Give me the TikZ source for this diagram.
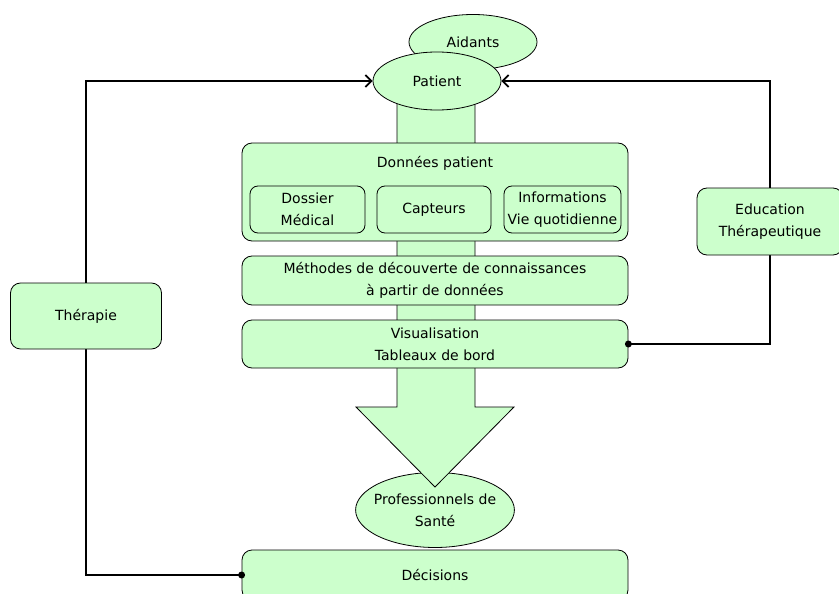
\documentclass[tikz,border=0pt]{standalone}
\usepackage{fontspec}
\setmainfont{DejaVu Sans}
\usepackage{tikz}
\usetikzlibrary{arrows.meta,positioning,shapes.geometric,backgrounds}

\definecolor{palegreen}{HTML}{CCFFCC}

\begin{document}
\begin{tikzpicture}[
    x=1pt, y=-1pt,
    font=\fontsize{14}{22}\selectfont,
    box/.style={draw, line width=0.8pt, fill=palegreen, rounded corners=10pt, align=center, inner sep=0pt},
    subbox/.style={box, rounded corners=8pt, minimum height=47pt},
    oval/.style={draw, line width=0.8pt, fill=palegreen, ellipse, align=center, inner sep=0pt},
    link/.style={line width=1.8pt},
    arr/.style={link, -{Straight Barb[length=6pt,width=12pt]}}
  ]
    \useasboundingbox (0,0) rectangle (839,594);
    \clip (0,0) rectangle (839,594);

    % Actors at the top
    \node[oval, minimum width=128pt, minimum height=55pt] (aid) at (473,42) {Aidants};

    % Health professionals (under the big arrow tip)
    \node[oval, inner xsep=-5pt, inner ysep=-4pt, minimum width=157pt, minimum height=75pt] (pro)
      at (435,510) {Professionnels de\\Santé};

    % Big flow arrow
    \draw[line width=0.8pt, fill=palegreen] (397,95) -- (397,407) -- (356,407) -- (435,487)
      -- (514,407) -- (475,407) -- (475,95) -- cycle;
    \node[oval, minimum width=128pt, minimum height=58pt] (pat) at (437,81) {Patient};

    % Central chain
    \node[box, minimum width=386pt, minimum height=98pt] (don) at (435,192) {};
    \node (dontitle) at (435,163) {Données\,\,patient};
    \node[subbox, minimum width=115pt] (dos) at (307.5,209.5) {Dossier\\Médical};
    \node[subbox, minimum width=114pt] (cap) at (434,209.5) {Capteurs};
    \node[subbox, minimum width=117pt] (inf) at (562.5,209.5) {Informations\\Vie quotidienne};
    \node[box, minimum width=386pt, minimum height=49pt] (met) at (435,280.5)
      {Méthodes de découverte de connaissances\\à partir de données};
    \node[box, minimum width=386pt, minimum height=48pt] (vis) at (435,344)
      {Visualisation\\Tableaux de bord};
    \node[box, minimum width=386pt, minimum height=50pt] (dec) at (435,575) {Décisions};

    % Side boxes
    \node[box, minimum width=151pt, minimum height=66pt] (ther) at (86,316) {Thérapie};
    \node[box, minimum width=146pt, minimum height=67pt] (edu) at (770,221.5)
      {Education\\Thérapeutique};

    % Feedback loops
    \begin{scope}[on background layer]
      \draw[arr] (dec.west) -| (ther.center) |- (pat.west);
      \draw[arr] (vis.east) -| (edu.center) |- (pat.east);
    \end{scope}
    \fill (dec.west) circle (3.5pt);
    \fill (vis.east) circle (3.5pt);
  \end{tikzpicture}
\end{document}
